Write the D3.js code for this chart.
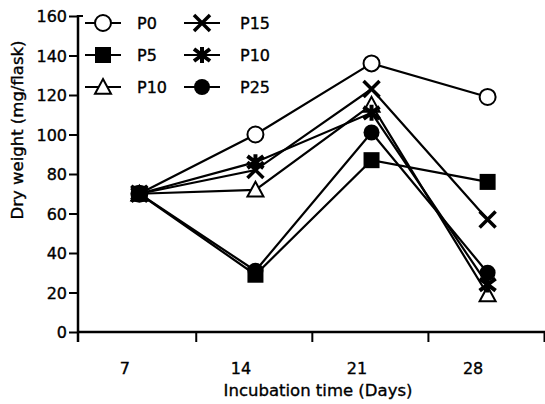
<!DOCTYPE html>
<html>
<head>
<meta charset="utf-8">
<script src="https://cdn.jsdelivr.net/npm/d3@7"></script>
<style>
  body { margin: 0; background: #fff; }
  svg text { font-family: "DejaVu Sans", sans-serif; fill: #000; stroke: #000; stroke-width: 0.35px; }
</style>
</head>
<body>
<div id="container"></div>
<script>
const WIDTH = 545;
const HEIGHT = 404;

// data
const days = [7, 14, 21, 28];
const seriesNames = ["P0", "P5", "P10", "P15", "P10", "P25"];
const seriesMarkers = ["openCircle", "square", "triangle", "cross", "asterisk", "dot"];
const p0 = [70, 100, 136, 119];
const p5 = [70, 29, 87, 76];
const p10Triangle = [70, 72, 115, 19];
const p15 = [70, 82, 123, 57];
const p10Star = [70, 86, 111, 24];
const p25 = [70, 31, 101, 30];
const seriesValues = [p0, p5, p10Triangle, p15, p10Star, p25];
const yTicks = [0, 20, 40, 60, 80, 100, 120, 140, 160];
const xTickMarks = [10.4, 17.4, 24.4, 31.4];

const x = d3.scaleLinear().domain([3.3, 31.4]).range([78, 544]);
const y = d3.scaleLinear().domain([0, 160]).range([332, 16]);

const svg = d3.select("#container")
  .append("svg")
  .attr("width", WIDTH)
  .attr("height", HEIGHT);

// y axis
const yAxis = svg.append("g")
  .attr("transform", `translate(${x(3.3)}, 0)`)
  .call(d3.axisLeft(y).tickValues(yTicks).tickSize(9).tickPadding(2).tickSizeOuter(0));
yAxis.select(".domain").remove();
yAxis.selectAll(".tick line").attr("stroke", "#000").attr("stroke-width", 2);
yAxis.selectAll("text").style("font-size", "16px").attr("dy", "0.36em");
svg.append("line")
  .attr("x1", x(3.3)).attr("x2", x(3.3))
  .attr("y1", y(160) - 1).attr("y2", y(0) + 10)
  .attr("stroke", "#000").attr("stroke-width", 2.5);
svg.append("line")
  .attr("x1", x(3.3)).attr("x2", x(3.3) + 5)
  .attr("y1", y(160)).attr("y2", y(160))
  .attr("stroke", "#000").attr("stroke-width", 2);

// x axis: tick marks between the days, labels under the days
const xMarks = svg.append("g")
  .attr("transform", `translate(0, ${y(0)})`)
  .call(d3.axisBottom(x).tickValues(xTickMarks).tickSize(10).tickFormat(""));
xMarks.select(".domain").remove();
xMarks.selectAll(".tick line").attr("stroke", "#000").attr("stroke-width", 2);
svg.append("line")
  .attr("x1", x(3.3)).attr("x2", x(31.4) + 1)
  .attr("y1", y(0)).attr("y2", y(0))
  .attr("stroke", "#000").attr("stroke-width", 2.5);

const xLabels = svg.append("g")
  .attr("transform", `translate(-15, ${y(0)})`)
  .call(d3.axisBottom(x).tickValues(days).tickSize(0).tickPadding(31));
xLabels.select(".domain").remove();
xLabels.selectAll("text").style("font-size", "16px");

// axis titles
svg.append("text")
  .attr("x", 318).attr("y", 396)
  .attr("text-anchor", "middle")
  .style("font-size", "16.5px")
  .text("Incubation time (Days)");
svg.append("text")
  .attr("transform", "rotate(-90)")
  .attr("x", -130).attr("y", 23)
  .attr("text-anchor", "middle")
  .style("font-size", "16.5px")
  .text("Dry weight (mg/flask)");

function drawMarker(g, type, size) {
  const s = size || 8;
  if (type === "openCircle") {
    g.append("circle").attr("r", s).attr("fill", "#fff").attr("stroke", "#000").attr("stroke-width", 2);
  } else if (type === "dot") {
    g.append("circle").attr("r", s).attr("fill", "#000");
  } else if (type === "square") {
    g.append("rect").attr("x", -s).attr("y", -s).attr("width", 2 * s).attr("height", 2 * s).attr("fill", "#000");
  } else if (type === "triangle") {
    g.append("path")
      .attr("d", `M0,${-s} L${s},${s * 0.85} L${-s},${s * 0.85} Z`)
      .attr("fill", "#fff").attr("stroke", "#000").attr("stroke-width", 2);
  } else if (type === "cross") {
    g.append("path")
      .attr("d", `M${-s},${-s} L${s},${s} M${s},${-s} L${-s},${s}`)
      .attr("stroke", "#000").attr("stroke-width", 3.5);
  } else if (type === "asterisk") {
    g.append("path")
      .attr("d", `M${-s},${-s * 0.75} L${s},${s * 0.75} M${s},${-s * 0.75} L${-s},${s * 0.75} M0,${-s} L0,${s}`)
      .attr("stroke", "#000").attr("stroke-width", 4);
  }
}

const line = d3.line().x((d, i) => x(days[i])).y((d) => y(d));

svg.append("g")
  .selectAll("path")
  .data(seriesValues)
  .enter()
  .append("path")
  .attr("d", (d) => line(d))
  .attr("fill", "none")
  .attr("stroke", "#000")
  .attr("stroke-width", 2.2);

seriesValues.forEach((vals, si) => {
  vals.forEach((v, i) => {
    const g = svg.append("g").attr("transform", `translate(${x(days[i])}, ${y(v)})`);
    drawMarker(g, seriesMarkers[si], 8);
  });
});

// legend
const legend = svg.append("g");
seriesNames.forEach((name, i) => {
  const col = Math.floor(i / 3);
  const row = i % 3;
  const cx = col === 0 ? 103 : 202;
  const cy = 23 + row * 32;
  legend.append("line")
    .attr("x1", cx - 18).attr("x2", cx + 18)
    .attr("y1", cy).attr("y2", cy)
    .attr("stroke", "#000").attr("stroke-width", 2.2);
  drawMarker(legend.append("g").attr("transform", `translate(${cx}, ${cy})`), seriesMarkers[i], 8);
  legend.append("text")
    .attr("x", cx + (col === 0 ? 34 : 38)).attr("y", cy)
    .attr("dy", "0.36em")
    .style("font-size", "16px")
    .text(name);
});
</script>
</body>
</html>
